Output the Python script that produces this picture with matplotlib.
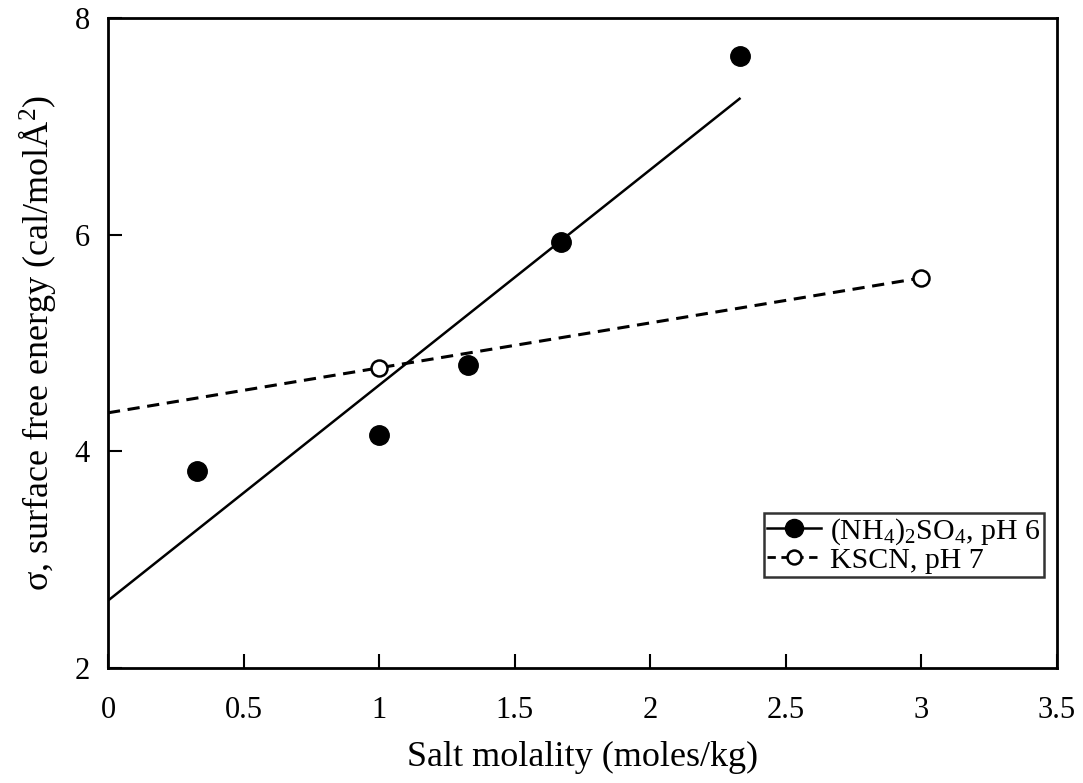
import numpy as np
import matplotlib
matplotlib.use("Agg")
import matplotlib.pyplot as plt

# ------------------------------
# Data
# ------------------------------
nh4_x = [0.33, 1.0, 1.33, 1.67, 2.33]
nh4_y = [3.82, 4.15, 4.80, 5.93, 7.65]

kscn_x = [1.0, 3.0]
kscn_y = [4.77, 5.60]

x_ticks = [0, 0.5, 1, 1.5, 2, 2.5, 3, 3.5]
x_tick_labels = ["0", "0.5", "1", "1.5", "2", "2.5", "3", "3.5"]
y_ticks = [2, 4, 6, 8]

# ------------------------------
# Fonts
# ------------------------------
plt.rcParams["font.family"] = ["Liberation Serif", "DejaVu Serif"]
plt.rcParams["mathtext.fontset"] = "custom"
plt.rcParams["mathtext.rm"] = "Liberation Serif"
plt.rcParams["mathtext.it"] = "Liberation Serif:italic"
plt.rcParams["mathtext.bf"] = "Liberation Serif:bold"

# ------------------------------
# Linear trend lines
# ------------------------------
p_nh4 = np.polyfit(nh4_x, nh4_y, 1)
p_kscn = np.polyfit(kscn_x, kscn_y, 1)
fit_nh4_x = np.array([0, max(nh4_x)])
fit_kscn_x = np.array([0, max(kscn_x)])

fig = plt.figure(figsize=(10.83, 7.83), dpi=100)
ax = fig.add_axes([0.0997, 0.147, 0.876, 0.830])

ax.plot(fit_nh4_x, np.polyval(p_nh4, fit_nh4_x), color="black", lw=1.8)
ax.plot(fit_kscn_x, np.polyval(p_kscn, fit_kscn_x), color="black", lw=2.2,
        ls=(0, (4, 2.5)))
ax.plot(nh4_x, nh4_y, "o", color="black", ms=14, ls="none")
ax.plot(kscn_x, kscn_y, "o", mfc="white", mec="black", mew=1.8, ms=11.5, ls="none")

# legend proxies (line + marker)
h1, = ax.plot([], [], color="black", lw=1.8, marker="o", ms=13)
h2, = ax.plot([], [], color="black", lw=2.0, ls=(0, (3, 2)), marker="o",
              mfc="white", mec="black", mew=1.8, ms=10)
leg = ax.legend([h1, h2], [r"(NH$_4$)$_2$SO$_4$, pH 6", "KSCN, pH 7"],
                loc="lower right", bbox_to_anchor=(0.993, 0.13),
                fontsize=21.5, frameon=True, fancybox=False, handlelength=1.8,
                handletextpad=0.3, borderpad=0.12, labelspacing=0.0,
                borderaxespad=0.2)
leg.get_frame().set_edgecolor("black")
leg.get_frame().set_linewidth(1.8)

ax.set_xlim(0, 3.5)
ax.set_ylim(2, 8)
ax.set_xticks(x_ticks)
ax.set_xticklabels(x_tick_labels)
ax.set_yticks(y_ticks)
ax.tick_params(direction="in", length=10, width=1.5, labelsize=22, pad=20)
ax.tick_params(axis="y", pad=13)
for s in ax.spines.values():
    s.set_linewidth(2)

ax.set_xlabel("Salt molality (moles/kg)", fontsize=26, labelpad=12)
ax.set_ylabel(r"σ, surface free energy (cal/molÅ$^2$)", fontsize=26, labelpad=12)

fig.savefig("out.png", dpi=100)
